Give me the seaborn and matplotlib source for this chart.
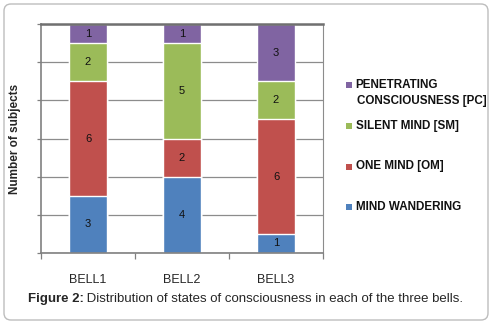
import matplotlib
matplotlib.use("Agg")
import matplotlib.pyplot as plt
import seaborn as sns
import numpy as np
import pandas as pd
from matplotlib.patches import FancyBboxPatch, Rectangle

categories = ["BELL1", "BELL2", "BELL3"]
mind_wandering = [3, 4, 1]
one_mind = [6, 2, 6]
silent_mind = [2, 5, 2]
penetrating = [1, 1, 3]

series_names = ["MIND WANDERING", "ONE MIND [OM]", "SILENT MIND [SM]",
                "PENETRATING\nCONSCIOUSNESS [PC]"]
series_values = [mind_wandering, one_mind, silent_mind, penetrating]
colors = ["#4F81BD", "#C0504D", "#9BBB59", "#8064A2"]

sns.set_style("white")
plt.rcParams['font.family'] = ['Liberation Sans', 'DejaVu Sans']

W, H = 492, 324
fig = plt.figure(figsize=(W / 100, H / 100), dpi=100)

# rounded outer border
border = FancyBboxPatch((4 / 100, 4 / 100), (W - 8) / 100, (H - 8) / 100,
                        boxstyle="round,pad=0,rounding_size=0.07",
                        transform=fig.dpi_scale_trans, facecolor="none",
                        edgecolor="#bdbdbd", linewidth=1.0, zorder=-1)
fig.patches.append(border)

ax = fig.add_axes([41 / W, 1 - 253 / H, (323 - 41) / W, (253 - 24) / H])
ax.set_facecolor("none")

# stacked bars: draw cumulative totals from top layer down
cum = np.cumsum(np.array(series_values), axis=0)
for k in range(len(series_values) - 1, -1, -1):
    df = pd.DataFrame({"cat": categories, "val": cum[k]})
    sns.barplot(data=df, x="cat", y="val", color=colors[k], width=0.4,
                saturation=1, ax=ax, zorder=3)

# value labels
for k, vals in enumerate(series_values):
    for i, v in enumerate(vals):
        ax.text(i, cum[k][i] - v / 2, str(v), ha="center", va="center",
                fontsize=8, color="#111111", zorder=5)

ax.set_ylim(0, 12)
ax.set_xlim(-0.5, 2.5)
ax.set_yticks(np.arange(0, 13, 2))
ax.set_yticklabels([])
ax.yaxis.grid(True, color="#8c8c8c", linewidth=0.9, zorder=0)
ax.set_axisbelow(True)
ax.tick_params(axis="y", length=3, color="#808080", width=0.9, left=True)
ax.set_xticks([0, 1, 2])
ax.set_xticklabels(categories, fontsize=9)
ax.tick_params(axis="x", length=0, pad=15)
ax.set_xticks([-0.5, 0.5, 1.5, 2.5], minor=True)
ax.tick_params(axis="x", which="minor", length=4, color="#808080", width=0.9, bottom=True)
ax.set_xlabel("")
ax.set_ylabel("Number of subjects", fontsize=8.5, fontweight="bold", labelpad=8)

for side in ["left", "bottom"]:
    ax.spines[side].set_color("#808080")
    ax.spines[side].set_linewidth(1.2)
ax.spines["top"].set_color("#707070")
ax.spines["top"].set_linewidth(1.8)
ax.spines["right"].set_color("#8c8c8c")
ax.spines["right"].set_linewidth(0.8)
for s in ax.spines.values():
    s.set_visible(True)
    s.set_zorder(4)

# legend (manual placement)
leg_y = [207, 166.5, 126, 85]
for k in range(len(series_names)):
    y = leg_y[k]
    fig.patches.append(Rectangle((345.5 / W, 1 - (y + 3) / H), 6 / W, 6 / H,
                                 transform=fig.transFigure, facecolor=colors[k],
                                 edgecolor="none"))
    lines = series_names[k].split("\n")
    for j, line in enumerate(lines):
        fig.text((355.5 + 1.5 * j) / W, 1 - (y + 16.5 * j) / H, line, fontsize=8.4,
                 fontweight="bold", ha="left", va="center", color="#111111")

# caption
fig.canvas.draw()
r = fig.canvas.get_renderer()
t1 = fig.text(0, 1 - 299 / H, "Figure 2:", fontsize=9.5, fontweight="bold",
              va="center", ha="left")
t2 = fig.text(0, 1 - 299 / H, " Distribution of states of consciousness in each of the three bells.",
              fontsize=9.5, va="center", ha="left")
w1 = t1.get_window_extent(r).width
w2 = t2.get_window_extent(r).width
x0 = 245.5 - (w1 + w2) / 2
t1.set_x(x0 / W)
t2.set_x((x0 + w1) / W)

fig.savefig("out.png", dpi=100)
